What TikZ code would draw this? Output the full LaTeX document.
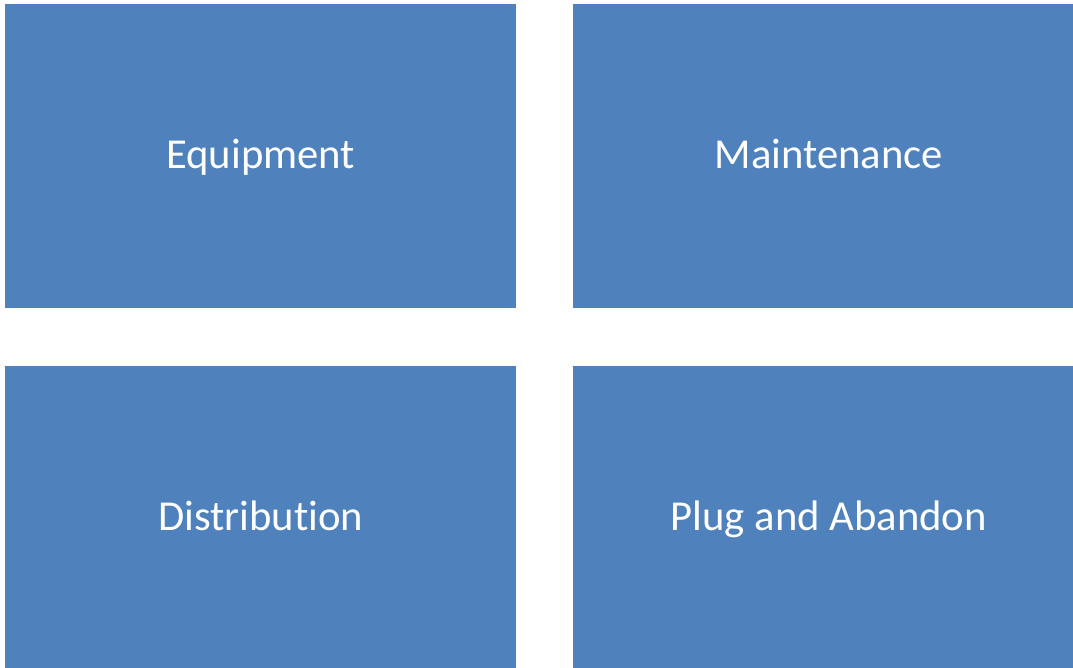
\documentclass[tikz,border=0pt]{standalone}
\usepackage{fontspec}
\setmainfont[Ligatures=NoCommon]{Carlito}
\definecolor{tileblue}{HTML}{4F81BD}
\tikzset{
  tile/.style={fill=tileblue, minimum width=383.25pt, minimum height=228pt,
    inner sep=0pt, anchor=north west, text=white, text height=24pt, text depth=6pt,
    font=\fontsize{32}{38}\selectfont}
}
\begin{document}
\begin{tikzpicture}[x=0.75pt, y=-0.75pt]
    \useasboundingbox (0,0) rectangle (1073,667);
    \clip (0,0) rectangle (1073,667);
    % the four tiles, two by two
    \node[tile] (equip) at (5,4) {Equipment};
    \node[tile] (maint) at (573,4) {Maintenance};
    \node[tile] (distr) at (5,366) {Distribution};
    \node[tile] (plug) at (573,366) {Plug and Abandon};
\end{tikzpicture}
\end{document}
